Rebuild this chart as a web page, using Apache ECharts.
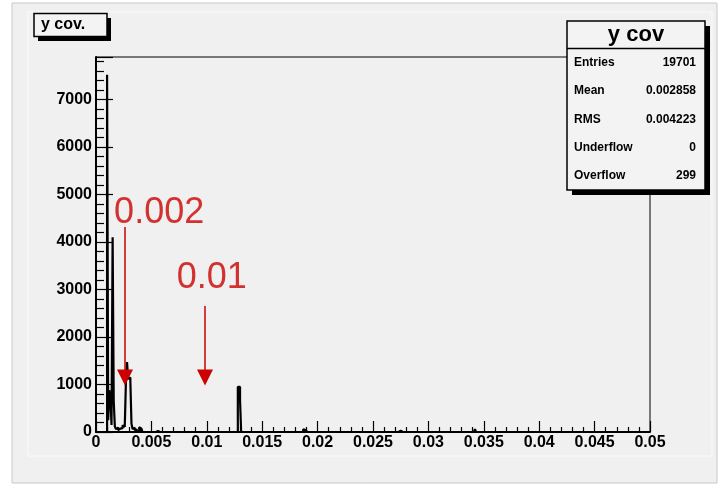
<!DOCTYPE html>
<html><head><meta charset="utf-8">
<script src="https://cdn.jsdelivr.net/npm/echarts@6/dist/echarts.min.js"></script>
<style>html,body{margin:0;padding:0;background:#fff}#c{width:719px;height:488px}</style>
</head><body><div id="c"></div>
<script>
// ---- data ----
const binWidth = 0.0001;      // 500 bins over [0, 0.05]
const nBins = 500;
const filledBins = [10, 11, 12, 13, 14, 15, 16, 17, 18, 19, 20, 21, 22, 23, 24, 25, 26, 27, 28, 29, 30, 31, 32, 33, 34, 35, 36, 38, 39, 40, 41, 44, 46, 52, 55, 128, 129, 130, 187, 188, 221, 274, 342];
const binCounts  = [7520, 250, 880, 700, 150, 4100, 650, 120, 60, 90, 40, 70, 30, 80, 140, 110, 160, 1050, 1470, 1120, 1150, 1080, 180, 60, 90, 40, 50, 30, 100, 70, 40, 20, 25, 15, 20, 950, 950, 660, 60, 40, 30, 25, 60];
const xTickStep = 0.005;
const yTickStep = 1000;
const yMax = 7895;
const annotations = [
  {text: '0.002', x: 0.0057, y: 4610, arrowX: 0.00262, arrowTop: 4316, arrowTip: 1150},
  {text: '0.01',  x: 0.01045, y: 3240, arrowX: 0.00984, arrowTop: 2653, arrowTip: 1150}
];
const statsTitle = 'y cov';
const statsLabels = ['Entries', 'Mean', 'RMS', 'Underflow', 'Overflow'];
const statsValues = ['19701', '0.002858', '0.004223', '0', '299'];
const histTitle = 'y cov.';

// ---- build histogram outline ----
const counts = new Array(nBins).fill(0);
filledBins.forEach((b, i) => { counts[b] = binCounts[i]; });
const stepData = counts.map((c, i) => [i * binWidth, c]);
stepData.push([nBins * binWidth, 0]);

const FONT = '"Liberation Sans", Arial, sans-serif';
const chart = echarts.init(document.getElementById('c'));

const g = [];
// canvas & pad
g.push({type: 'rect', shape: {x: 12, y: 3, width: 705, height: 480}, style: {fill: '#f0f0f0', stroke: '#c8c8c8', lineWidth: 1}, z: -10});
g.push({type: 'rect', shape: {x: 28, y: 12, width: 684, height: 444}, style: {fill: '#f0f0f0', stroke: '#fbfbfb', lineWidth: 1}, z: -9});
// title box
g.push({type: 'rect', shape: {x: 38, y: 18, width: 73, height: 23}, style: {fill: '#000'}, z: 10});
g.push({type: 'rect', shape: {x: 34, y: 13.5, width: 73, height: 23}, style: {fill: '#f3f3f3', stroke: '#000', lineWidth: 1.5}, z: 11});
g.push({type: 'text', x: 41, y: 25, style: {text: histTitle, font: 'bold 16px ' + FONT, fill: '#000', verticalAlign: 'middle'}, z: 12});
// stats box
const sx = 567, sy = 21, sw = 138, sh = 169;
g.push({type: 'rect', shape: {x: sx + 5, y: sy + 5, width: sw, height: sh}, style: {fill: '#000'}, z: 10});
g.push({type: 'rect', shape: {x: sx, y: sy, width: sw, height: sh}, style: {fill: '#f3f3f3', stroke: '#000', lineWidth: 1.5}, z: 11});
g.push({type: 'line', shape: {x1: sx, y1: 48.5, x2: sx + sw, y2: 48.5}, style: {stroke: '#000', lineWidth: 1.5}, z: 12});
g.push({type: 'text', x: sx + sw / 2, y: 34.5, style: {text: statsTitle, font: 'bold 22px ' + FONT, fill: '#000', align: 'center', verticalAlign: 'middle'}, z: 12});
const rowY = [63, 91, 120, 147.5, 176];
statsLabels.forEach((l, i) => {
  g.push({type: 'text', x: 574, y: rowY[i], style: {text: l, font: 'bold 12px ' + FONT, fill: '#000', verticalAlign: 'middle'}, z: 12});
  g.push({type: 'text', x: 696, y: rowY[i], style: {text: statsValues[i], font: 'bold 12px ' + FONT, fill: '#000', align: 'right', verticalAlign: 'middle'}, z: 12});
});

const RED = '#cc0000';
chart.setOption({
  backgroundColor: '#ffffff',
  animation: false,
  graphic: g,
  grid: {left: 96, right: 69, top: 57, bottom: 56, show: true, borderColor: '#000', borderWidth: 1, backgroundColor: 'transparent'},
  xAxis: {
    type: 'value', min: 0, max: 0.05, interval: xTickStep,
    axisLine: {show: true, onZero: false, lineStyle: {color: '#000', width: 2}},
    axisTick: {show: true, inside: true, length: 11, lineStyle: {color: '#000', width: 1.2}},
    minorTick: {show: true, splitNumber: 5, length: 5, lineStyle: {color: '#000', width: 1.2}},
    splitLine: {show: false},
    axisLabel: {margin: 3, color: '#000', fontWeight: 'bold', fontSize: 16, fontFamily: FONT,
      formatter: v => String(+v.toFixed(4))}
  },
  yAxis: {
    type: 'value', min: 0, max: yMax, interval: yTickStep,
    axisLine: {show: true, onZero: false, lineStyle: {color: '#000', width: 2}},
    axisTick: {show: true, inside: true, length: 17, lineStyle: {color: '#000', width: 1.2}},
    minorTick: {show: true, splitNumber: 5, length: 8, lineStyle: {color: '#000', width: 1.2}},
    splitLine: {show: false},
    axisLabel: {margin: 4, color: '#000', fontWeight: 'bold', fontSize: 16, fontFamily: FONT, showMaxLabel: false,
      formatter: v => String(v)}
  },
  series: [
    {
      type: 'line', step: 'end', data: stepData, showSymbol: false, silent: true,
      lineStyle: {color: '#000', width: 2.2},
      markLine: {
        silent: true, symbol: ['none', 'triangle'], symbolSize: 16,
        lineStyle: {color: RED, width: 1.5, type: 'solid'},
        itemStyle: {color: RED},
        label: {show: false},
        data: annotations.map(a => [{coord: [a.arrowX, a.arrowTop]}, {coord: [a.arrowX, a.arrowTip]}])
      }
    },
    {
      type: 'scatter', silent: true, symbolSize: 1, itemStyle: {color: 'rgba(0,0,0,0)'},
      data: annotations.map(a => ({value: [a.x, a.y], name: a.text})),
      label: {show: true, position: 'inside', formatter: p => p.name, color: RED, fontSize: 36, fontFamily: FONT}
    }
  ]
});
</script></body></html>
